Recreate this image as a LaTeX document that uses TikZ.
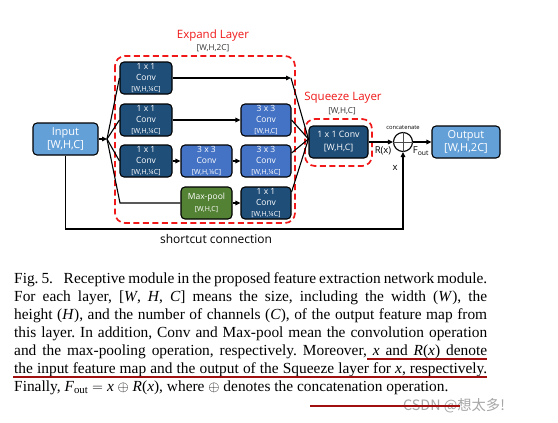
\documentclass[tikz,border=0pt]{standalone}
\usepackage{fontspec}
\setmainfont{Liberation Serif}
\newfontfamily\dsf{Open Sans}
\newfontfamily\cjkf{Noto Sans CJK SC}
\usetikzlibrary{arrows.meta,calc}
\definecolor{darkbox}{HTML}{1F4E79}
\definecolor{midbox}{HTML}{4472C4}
\definecolor{lightbox}{HTML}{64A0D8}
\definecolor{greenbox}{HTML}{548235}
\definecolor{dashred}{HTML}{F01818}
\definecolor{ulred}{HTML}{A01010}
\newcommand{\bxt}[3]{#1\\#2\\{\fontsize{7}{11}\selectfont #3}}
\newcommand{\capline}[1]{\hbox to 473pt{#1}}
\begin{document}
\begin{tikzpicture}[x=1pt,y=-1pt,
  box/.style={draw=black,line width=1.1pt,rounded corners=4pt,inner sep=0pt,
    minimum height=32pt,align=center,text=white,font=\dsf\fontsize{8.5}{11}\selectfont},
  dbox/.style={box,fill=darkbox},
  mbox/.style={box,fill=midbox},
  gbox/.style={box,fill=greenbox},
  lbox/.style={box,fill=lightbox,font=\dsf\fontsize{11}{13.5}\selectfont},
  arr/.style={-{Triangle[length=5pt,width=4.5pt]},line width=1.1pt},
  ln/.style={line width=1.1pt},
  reddash/.style={draw=dashred,line width=1.7pt,dash pattern=on 6pt off 3.5pt,rounded corners=10pt},
  lbl/.style={inner sep=0pt,font=\dsf\fontsize{9.5}{10}\selectfont},
  redlbl/.style={inner sep=0pt,text=dashred,font=\dsf\fontsize{11.5}{12}\selectfont},
  dimlbl/.style={inner sep=0pt,text=black!80,font=\dsf\fontsize{8.2}{9}\selectfont},
  uline/.style={draw=ulred,line width=1.5pt}]
\useasboundingbox (0,0) rectangle (558,423);
\fill[white] (0,0) rectangle (558,423);

% dashed groups
\draw[reddash] (115,56) rectangle (295,223);
\draw[reddash] (305,119) rectangle (372,166);
\node[redlbl] (expl) at (213,36) {Expand Layer};
\node[dimlbl] (expd) at (213,48) {[W,H,2C]};
\node[redlbl] (sqzl) at (343,98) {Squeeze Layer};
\node[dimlbl] (sqzd) at (342,111) {[W,H,C]};

% nodes
\node[lbox,minimum width=65pt] (in) at (65.5,139) {Input\\{[W,H,C]}};
\node[dbox,minimum width=52pt] (a1) at (146,78) {\bxt{1 x 1}{Conv}{[W,H,¼C]}};
\node[dbox,minimum width=52pt] (a2) at (146,120) {\bxt{1 x 1}{Conv}{[W,H,¼C]}};
\node[dbox,minimum width=52pt] (a3) at (146,161) {\bxt{1 x 1}{Conv}{[W,H,¼C]}};
\node[mbox,minimum width=51pt] (b3) at (206.5,161) {\bxt{3 x 3}{Conv}{[W,H,¼C]}};
\node[gbox,minimum width=51pt,font=\dsf\fontsize{8.5}{12}\selectfont] (mp) at (206.5,203) {Max-pool\\{\fontsize{7}{12}\selectfont [W,H,C]}};
\node[mbox,minimum width=50pt] (c2) at (266,120) {\bxt{3 x 3}{Conv}{[W,H,C]}};
\node[mbox,minimum width=50pt] (c3) at (266,161) {\bxt{3 x 3}{Conv}{[W,H,¼C]}};
\node[dbox,minimum width=50pt] (c4) at (266,203) {\bxt{1 x 1}{Conv}{[W,H,¼C]}};
\node[dbox,minimum width=59pt,font=\dsf\fontsize{8.8}{13}\selectfont] (sq) at (338.5,142) {1 x 1 Conv\\{[W,H,C]}};
\node[circle,draw=black,line width=1.1pt,minimum size=19pt,inner sep=0pt] (cc) at (403,142) {};
\draw[line width=0.6pt,black!70] (cc.north) -- (cc.south) (cc.west) -- (cc.east);
\node[lbox,minimum width=68pt] (out) at (466,142) {Output\\{[W,H,2C]}};

% coordinates
\coordinate (j) at (107,139);
\coordinate (b4) at (120,203);
\coordinate (e1) at (291,78);
\coordinate (s2) at (403,229);
\coordinate (sqin) at ($(sq.west)+(0,-3)$);

% connectors
\draw[arr] (in.east) -- (j);
\draw[ln] (j) -- (a1.west);
\draw[ln] (j) -- (a2.west);
\draw[ln] (j) -- (a3.west);
\draw[ln] (j) -- (b4) -- (mp.west);
\draw[arr] (a1.east) -- (e1);
\draw[arr] (a2.east) -- (c2.west);
\draw[arr] (a3.east) -- (b3.west);
\draw[arr] (b3.east) -- (c3.west);
\draw[arr] (mp.east) -- (c4.west);
\draw[ln] (e1) -- (sqin);
\draw[ln] (c2.east) -- (sqin);
\draw[ln] ($(c3.east)+(0,-8)$) -- (sqin);
\draw[ln] ($(c4.east)+(0,-11)$) -- (sqin);
\draw[arr] (sq.east) -- (cc.west);
\draw[arr] (cc.east) -- (out.west);
\draw[arr] (in.south) |- (s2) -- (cc.south);

% labels
\node[inner sep=0pt,font=\dsf\fontsize{5.8}{6}\selectfont] (cat) at (403,128) {concatenate};
\node[lbl] (rx) at (383,151) {R(x)};
\node[lbl] (fo) at (421,151) {F\textsubscript{\fontsize{6.8}{7}\selectfont out}};
\node[lbl] (xl) at (395,168) {x};
\node[inner sep=0pt,font=\dsf\fontsize{12}{13}\selectfont] (scl) at (216,239) {shortcut connection};

% caption
\node[anchor=base west,inner sep=0pt] (cap) at (14,283) {\parbox[t]{473pt}{\fontsize{15.4}{18}\selectfont\frenchspacing
\capline{Fig. 5.\enspace\ Receptive module in the proposed feature extraction network module.}
\capline{For each layer, {[}\textit{W}, \textit{H}, \textit{C}] means the size, including the width (\textit{W}), the}
\capline{height (\textit{H}), and the number of channels (\textit{C}), of the output feature map from}
\capline{this layer. In addition, Conv and Max-pool mean the convolution operation}
\capline{and the max-pooling operation, respectively. Moreover, \textit{x} and \textit{R}(\textit{x}) denote}
\capline{the input feature map and the output of the Squeeze layer for \textit{x}, respectively.}
\hbox{Finally, \textit{F}\textsubscript{out} $=$ \textit{x} $\oplus$ \textit{R}(\textit{x}), where $\oplus$ denotes the concatenation operation.}}};

% underlines and watermark
\coordinate (u1a) at (367,359); \coordinate (u1b) at (487,359);
\coordinate (u2a) at (13,377); \coordinate (u2b) at (487,377);
\draw[uline] (u1a) -- (u1b);
\draw[uline] (u2a) -- (u2b);
\node[anchor=west,inner sep=0pt,text=black!35,font=\cjkf\fontsize{14.3}{15}\selectfont] (wm) at (403,406) {CSDN @想太多!};
\coordinate (u3a) at (310,406); \coordinate (u3b) at (460,406);
\draw[uline] (u3a) -- (u3b);
\end{tikzpicture}
\end{document}
